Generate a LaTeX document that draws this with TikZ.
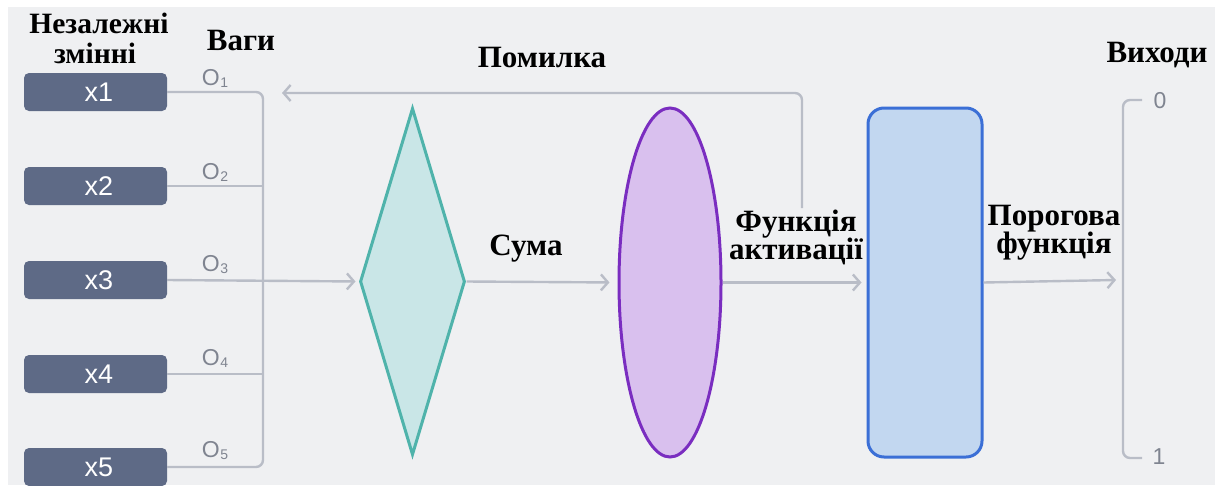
\documentclass[tikz,border=0pt]{standalone}
\usepackage{fontspec}
\setmainfont{Liberation Serif}
\newfontfamily\sansf{Liberation Sans}
\usetikzlibrary{shapes.geometric,arrows.meta}
\definecolor{bgc}{HTML}{EFF0F2}
\definecolor{boxc}{HTML}{5E6A86}
\definecolor{linec}{HTML}{B9BDC7}
\definecolor{wc}{HTML}{7F8490}
\definecolor{dfill}{HTML}{C9E6E7}
\definecolor{ddraw}{HTML}{4FB3AB}
\definecolor{efill}{HTML}{D9C0EE}
\definecolor{edraw}{HTML}{7A2DC0}
\definecolor{rfill}{HTML}{C2D7F0}
\definecolor{rdraw}{HTML}{3B6FD6}
\begin{document}
\begin{tikzpicture}[x=1pt,y=-1pt,
  xbox/.style={rectangle, rounded corners=5pt, fill=boxc, minimum width=143pt, minimum height=38pt, inner sep=0pt, text=white, font=\sansf\fontsize{27}{27}\selectfont},
  conn/.style={draw=linec, line width=2.4pt},
  arr/.style={conn, -{Straight Barb[length=7pt,width=16pt]}},
  lbl/.style={font=\bfseries\fontsize{31}{31}\selectfont, anchor=base, inner sep=0pt},
  slbl/.style={font=\bfseries\fontsize{29.5}{29.5}\selectfont, anchor=base, inner sep=0pt},
  wlbl/.style={text=wc, font=\sansf\fontsize{23}{23}\selectfont, inner sep=0pt},
  olbl/.style={text=wc, font=\sansf\fontsize{23}{23}\selectfont, inner sep=0pt}
]
\useasboundingbox (0,0) rectangle (1220,485);
\clip (0,0) rectangle (1220,485);
\fill[white] (0,0) rectangle (1220,485);
\fill[bgc] (8,7) rectangle (1215,485);

% input boxes
\node[xbox] (x1) at (95.5,92) {\kern7pt x1};
\node[xbox] (x2) at (95.5,186) {\kern7pt x2};
\node[xbox] (x3) at (95.5,280) {\kern7pt x3};
\node[xbox] (x4) at (95.5,374) {\kern7pt x4};
\node[xbox] (x5) at (95.5,467) {\kern7pt x5};

% weights labels
\node[wlbl] (w1) at (215,78) {O\kern0.5pt\raisebox{-2pt}{\fontsize{14}{14}\selectfont 1}};
\node[wlbl] (w2) at (215,172) {O\kern0.5pt\raisebox{-2pt}{\fontsize{14}{14}\selectfont 2}};
\node[wlbl] (w3) at (215,265) {O\kern0.5pt\raisebox{-2pt}{\fontsize{14}{14}\selectfont 3}};
\node[wlbl] (w4) at (215,358) {O\kern0.5pt\raisebox{-2pt}{\fontsize{14}{14}\selectfont 4}};
\node[wlbl] (w5) at (215,451) {O\kern0.5pt\raisebox{-2pt}{\fontsize{14}{14}\selectfont 5}};

% main shapes
\node[diamond, draw=ddraw, fill=dfill, line width=3pt, minimum width=105pt, minimum height=347pt, inner sep=0pt, aspect=0.3] (sum) at (412.5,281.5) {};
\node[ellipse, draw=edraw, fill=efill, line width=3pt, minimum width=102pt, minimum height=349pt, inner sep=0pt] (act) at (670,282.5) {};
\node[rectangle, rounded corners=16pt, draw=rdraw, fill=rfill, line width=3pt, minimum width=114pt, minimum height=349pt, inner sep=0pt] (thr) at (925,282.5) {};

% coordinates
\coordinate (fbstart) at (802,208);
\coordinate (fbend) at (282,93);
\coordinate (out) at (1116,280);
\coordinate (btop) at (1142,100);
\coordinate (bbot) at (1142,458);

% input bus
\draw[conn, rounded corners=7pt] (x1.east) -- (263,92) -- (263,467) -- (x5.east);
\draw[conn] (x2.east) -- (263,186);
\draw[conn] (x4.east) -- (263,374);
\draw[arr, shorten >=3pt] (x3.east) -- (sum.west);

% flow
\draw[arr, shorten >=8pt] (sum.east) -- (act.west);
\draw[arr, shorten >=5pt] (act.east) -- (thr.west);
\draw[arr] (thr.east) -- (out);

% feedback
\draw[arr, rounded corners=7pt] (fbstart) |- (fbend);

% output bracket
\draw[conn, rounded corners=7pt] (btop) -- (1123,100) -- (1123,458) -- (bbot);
\node[olbl] (o0) at (1160,101) {0};
\node[olbl] (o1) at (1159,457) {1};

% labels
\node[slbl] (t1a) at (99,33) {Незалежні};
\node[slbl] (t1b) at (95,63) {змінні};
\node[lbl] (t2) at (241,50) {Ваги};
\node[lbl] (t3) at (542,67) {Помилка};
\node[lbl] (t4) at (526,255) {Сума};
\node[lbl] (t5a) at (796,231) {Функція};
\node[lbl] (t5b) at (796,259) {активації};
\node[lbl] (t6a) at (1054,225) {Порогова};
\node[lbl] (t6b) at (1054,253) {функція};
\node[lbl] (t7) at (1157,62) {Виходи};
\end{tikzpicture}
\end{document}
